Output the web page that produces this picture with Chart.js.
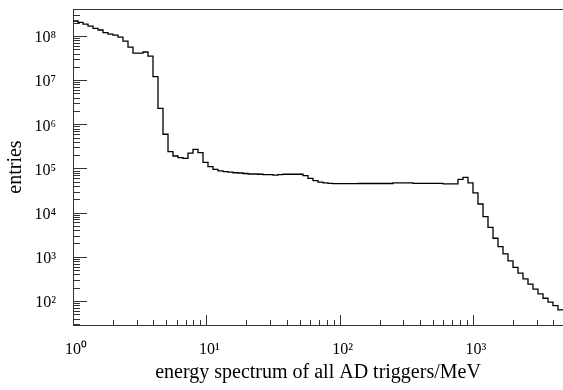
<!DOCTYPE html>
<html>
<head>
<meta charset="utf-8">
<script src="https://cdn.jsdelivr.net/npm/chart.js@4.4.0/dist/chart.umd.min.js"></script>
<style>
  body { margin: 0; background: #fff; }
</style>
</head>
<body>
<canvas id="spectrum" width="563" height="390"></canvas>
<script>
// bin edges in MeV (log binning), last value is the upper edge of the last bin
const binEdges = [
  1, 1.090, 1.189, 1.296, 1.413, 1.540, 1.679, 1.830, 1.995, 2.175,
  2.371, 2.585, 2.818, 3.073, 3.350, 3.652, 3.981, 4.340, 4.732, 5.159,
  5.623, 6.131, 6.683, 7.286, 7.943, 8.660, 9.441, 10.29, 11.22, 12.23,
  13.34, 14.54, 15.85, 17.28, 18.84, 20.54, 22.39, 24.41, 26.61, 29.01,
  31.62, 34.47, 37.58, 40.97, 44.67, 48.70, 53.09, 57.88, 63.10, 68.79,
  74.99, 81.75, 89.13, 97.16, 105.9, 115.5, 125.9, 137.3, 149.6, 163.1,
  177.8, 193.9, 211.3, 230.4, 251.2, 273.8, 298.5, 325.5, 354.8, 386.8,
  421.7, 459.8, 501.2, 546.4, 595.7, 649.4, 707.9, 771.8, 841.4, 917.3,
  1000, 1090, 1189, 1296, 1413, 1540, 1679, 1830, 1995, 2175,
  2371, 2585, 2818, 3073, 3350, 3652, 3981, 4340, 4732
];

// entries per bin
const entries = [
  2.19e8, 2.04e8, 1.87e8, 1.68e8, 1.49e8, 1.37e8, 1.19e8, 1.11e8, 1.05e8, 9.5e7,
  7.7e7, 5.6e7, 4.1e7, 4.1e7, 4.35e7, 3.5e7, 1.2e7, 2.31e6, 5.96e5, 2.40e5,
  1.92e5, 1.77e5, 1.70e5, 2.22e5, 2.72e5, 2.29e5, 1.38e5, 1.10e5, 9.6e4, 8.8e4,
  8.5e4, 8.3e4, 8.0e4, 7.9e4, 7.7e4, 7.5e4, 7.5e4, 7.4e4, 7.3e4, 7.25e4,
  7.1e4, 7.25e4, 7.4e4, 7.4e4, 7.4e4, 7.4e4, 6.9e4, 6.0e4, 5.3e4, 4.9e4,
  4.7e4, 4.58e4, 4.53e4, 4.53e4, 4.53e4, 4.53e4, 4.53e4, 4.57e4, 4.57e4, 4.57e4,
  4.57e4, 4.57e4, 4.57e4, 4.57e4, 4.7e4, 4.7e4, 4.7e4, 4.7e4, 4.62e4, 4.62e4,
  4.62e4, 4.62e4, 4.62e4, 4.62e4, 4.46e4, 4.46e4, 4.46e4, 5.64e4, 6.32e4, 4.7e4,
  2.79e4, 1.57e4, 8.1e3, 4.62e3, 2.63e3, 1.70e3, 1.16e3, 805, 574, 425,
  316, 240, 185, 144, 115, 93.5, 78, 62.7
];

const xTickValues = [1, 10, 100, 1000];
const xTickLabels = ['10\u2070', '10\u00b9', '10\u00b2', '10\u00b3'];
const yTickValues = [1e2, 1e3, 1e4, 1e5, 1e6, 1e7, 1e8];
const yTickLabels = ['10\u00b2', '10\u00b3', '10\u2074', '10\u2075', '10\u2076', '10\u2077', '10\u2078'];

const xRange = [1, 4732];
const yRange = [28.5, 4.1e8];

// histogram as stepped line: each point holds its value until the next edge
const points = entries.map((v, i) => ({ x: binEdges[i], y: v }));
points.push({ x: binEdges[binEdges.length - 1], y: entries[entries.length - 1] });

const serif = 'Liberation Serif, Times New Roman, serif';
const axisColor = '#333';

// ROOT style frame: inward tick marks and the top line of the box
const frameTicks = {
  id: 'frameTicks',
  afterDraw(chart) {
    const { ctx, chartArea } = chart;
    const xs = chart.scales.x;
    const ys = chart.scales.y;
    ctx.save();
    ctx.strokeStyle = axisColor;
    ctx.lineWidth = 1;
    ctx.beginPath();
    for (let e = 0; e < 4; e++) {
      for (let m = 1; m < 10; m++) {
        const v = m * Math.pow(10, e);
        if (v < xs.min || v > xs.max) continue;
        const px = Math.round(xs.getPixelForValue(v)) + 0.5;
        const len = m === 1 ? 10 : 5;
        ctx.moveTo(px, chartArea.bottom);
        ctx.lineTo(px, chartArea.bottom - len);
      }
    }
    for (let e = 1; e < 9; e++) {
      for (let m = 1; m < 10; m++) {
        const v = m * Math.pow(10, e);
        if (v < ys.min || v > ys.max) continue;
        const py = Math.round(ys.getPixelForValue(v)) + 0.5;
        const len = m === 1 ? 14 : 7;
        ctx.moveTo(chartArea.left, py);
        ctx.lineTo(chartArea.left + len, py);
      }
    }
    ctx.moveTo(chartArea.left, chartArea.top + 0.5);
    ctx.lineTo(chartArea.right, chartArea.top + 0.5);
    ctx.stroke();
    ctx.restore();
  }
};

new Chart(document.getElementById('spectrum'), {
  type: 'line',
  data: {
    datasets: [{
      data: points,
      stepped: true,
      borderColor: '#000',
      borderWidth: 1.3,
      pointRadius: 0,
      fill: false
    }]
  },
  options: {
    responsive: false,
    animation: false,
    devicePixelRatio: 1,
    layout: { padding: { top: 9, left: 0, right: 0, bottom: 0 } },
    plugins: { legend: { display: false }, tooltip: { enabled: false } },
    scales: {
      x: {
        type: 'logarithmic',
        position: 'bottom',
        min: xRange[0],
        max: xRange[1],
        afterFit: s => { s.height = 65; s.paddingLeft = 0; s.paddingRight = 0; },
        afterBuildTicks: s => { s.ticks = xTickValues.map(v => ({ value: v })); },
        grid: { display: false, drawTicks: false },
        border: { color: axisColor, width: 1 },
        ticks: {
          autoSkip: false,
          maxRotation: 0,
          padding: 15,
          labelOffset: 3,
          color: '#000',
          font: { family: serif, size: 16 },
          callback: v => xTickLabels[xTickValues.indexOf(v)]
        },
        title: {
          display: true,
          text: 'energy spectrum of all AD triggers/MeV',
          color: '#000',
          font: { family: serif, size: 20 },
          padding: { top: 0, bottom: 5 }
        }
      },
      y: {
        type: 'logarithmic',
        position: 'left',
        min: yRange[0],
        max: yRange[1],
        afterFit: s => { s.width = 73; s.paddingTop = 0; s.paddingBottom = 0; },
        afterBuildTicks: s => { s.ticks = yTickValues.map(v => ({ value: v })); },
        grid: { display: false, drawTicks: false },
        border: { color: axisColor, width: 1 },
        ticks: {
          autoSkip: false,
          padding: 17,
          labelOffset: 2,
          color: '#000',
          font: { family: serif, size: 16 },
          callback: v => yTickLabels[yTickValues.indexOf(v)]
        },
        title: {
          display: true,
          text: 'entries',
          color: '#000',
          font: { family: serif, size: 20 },
          padding: { top: 4, bottom: 0 }
        }
      }
    }
  },
  plugins: [frameTicks]
});
</script>
</body>
</html>
